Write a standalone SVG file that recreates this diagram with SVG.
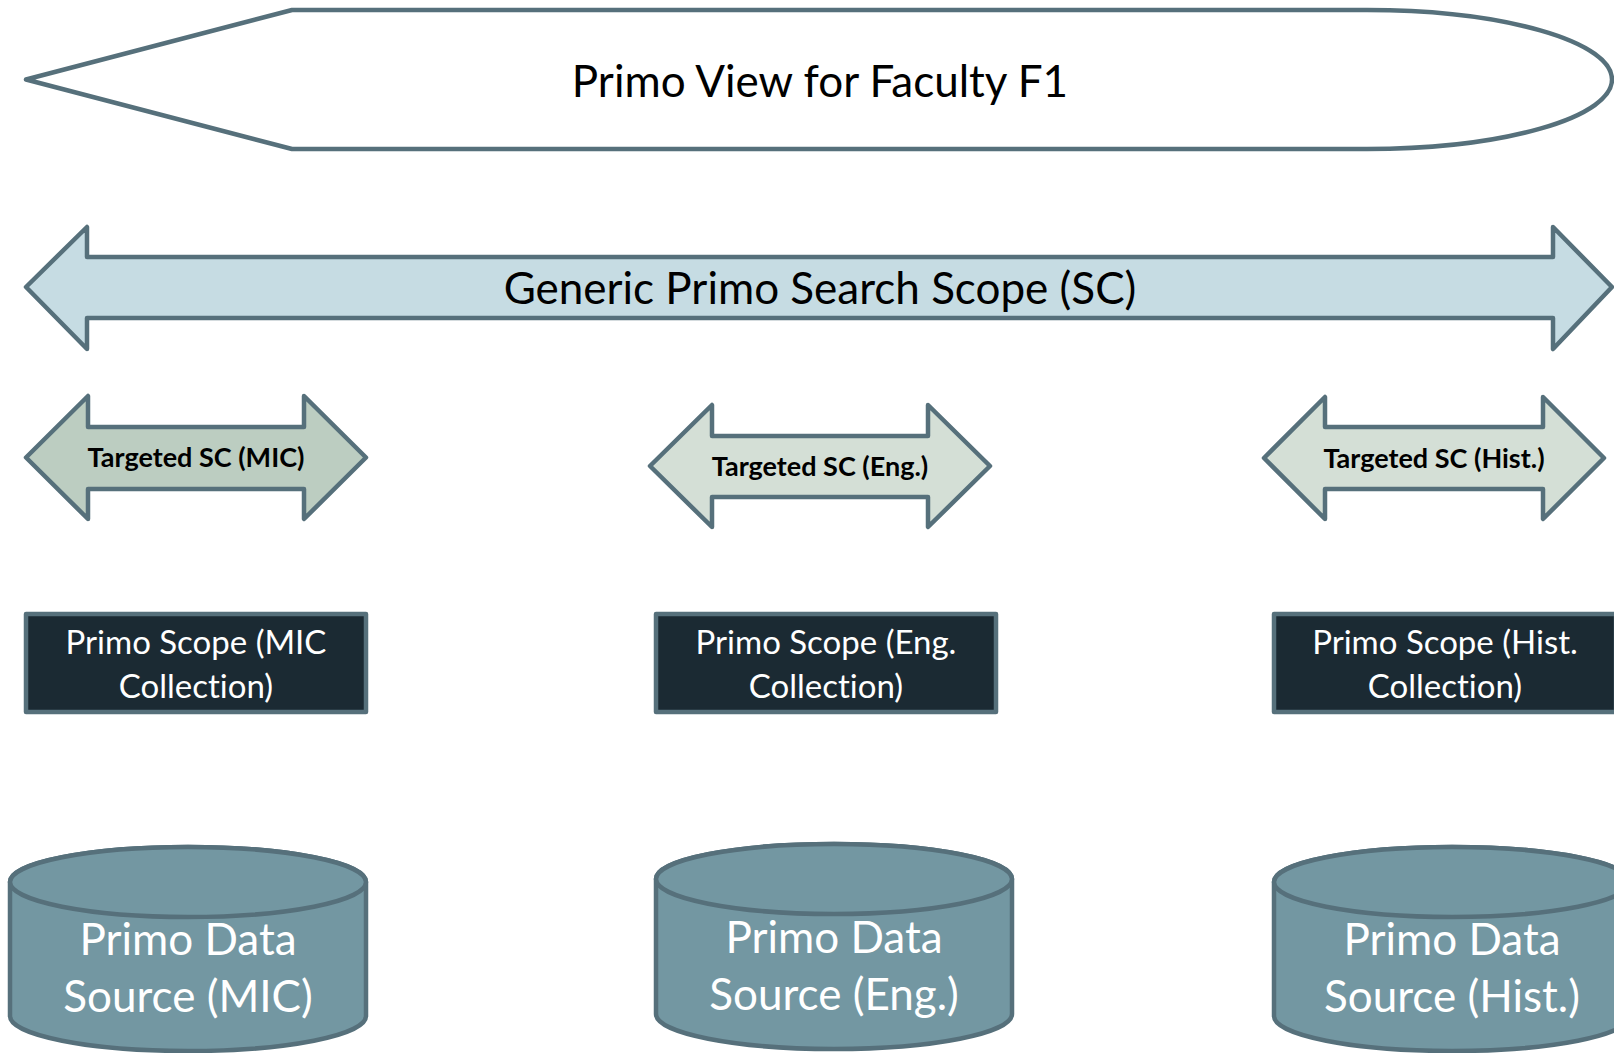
<svg xmlns="http://www.w3.org/2000/svg" width="1614" height="1053" viewBox="0 0 1614 1053">
<style>
.edge{stroke:#56707b;stroke-width:4.5;stroke-linejoin:round}
.view{fill:#ffffff}
.gen{fill:#c6dce3}
.tmic{fill:#bccdc1}
.tlite{fill:#d4dfd6}
.box{fill:#1b2a33}
.cyl{fill:#7397a2}
.t{font-family:Lato,"Liberation Sans",sans-serif;text-anchor:middle;font-variant-ligatures:none;font-feature-settings:"liga" 0}
.big{font-size:44px;fill:#000}
.bold{font-size:27px;font-weight:bold;fill:#000}
.wbox{font-size:33px;fill:#fff}
.wcyl{font-size:44px;fill:#fff}
</style>
<g id="view">
<path class="edge view" d="M26,79.5 L292,10 L1367,10 A245,69.5 0 0 1 1367,149 L292,149 Z"/>
<text class="t big" x="820" y="97">Primo View for Faculty F1</text>
</g>
<g id="generic-sc">
<polygon class="edge gen" points="26,287 87,227 87,257 1553,257 1553,227 1612,287 1553,349 1553,318 87,318 87,349"/>
<text class="t big" x="820" y="304">Generic Primo Search Scope (SC)</text>
</g>
<g id="targeted-mic">
<polygon class="edge tmic" points="26,457.5 88,396 88,427 304,427 304,396 366,457.5 304,519 304,489 88,489 88,519"/>
<text class="t bold" x="196" y="467">Targeted SC (MIC)</text>
</g>
<g id="targeted-eng">
<polygon class="edge tlite" points="650,466 712,405 712,436 928,436 928,405 990,466 928,527 928,497 712,497 712,527"/>
<text class="t bold" x="820" y="476">Targeted SC (Eng.)</text>
</g>
<g id="targeted-hist">
<polygon class="edge tlite" points="1264,458 1325,397 1325,427 1543,427 1543,397 1604,458 1543,519 1543,489 1325,489 1325,519"/>
<text class="t bold" x="1434" y="468">Targeted SC (Hist.)</text>
</g>
<g id="scope-mic">
<rect class="edge box" x="26" y="614" width="340" height="98"/>
<text class="t wbox" x="196" y="654">Primo Scope (MIC</text>
<text class="t wbox" x="196" y="698">Collection)</text>
</g>
<g id="scope-eng">
<rect class="edge box" x="656" y="614" width="340" height="98"/>
<text class="t wbox" x="826" y="654">Primo Scope (Eng.</text>
<text class="t wbox" x="826" y="698">Collection)</text>
</g>
<g id="scope-hist">
<rect class="edge box" x="1274" y="614" width="342" height="98"/>
<text class="t wbox" x="1445" y="654">Primo Scope (Hist.</text>
<text class="t wbox" x="1445" y="698">Collection)</text>
</g>
<g id="source-mic">
<path class="edge cyl" d="M10,882 L10,1016 A178,35 0 0 0 366,1016 L366,882 A178,35 0 0 0 10,882 Z"/>
<ellipse class="edge cyl" cx="188" cy="882" rx="178" ry="35"/>
<text class="t wcyl" x="188" y="955">Primo Data</text>
<text class="t wcyl" x="188" y="1012">Source (MIC)</text>
</g>
<g id="source-eng">
<path class="edge cyl" d="M656,879 L656,1014 A178,35 0 0 0 1012,1014 L1012,879 A178,35 0 0 0 656,879 Z"/>
<ellipse class="edge cyl" cx="834" cy="879" rx="178" ry="35"/>
<text class="t wcyl" x="834" y="953">Primo Data</text>
<text class="t wcyl" x="834" y="1010">Source (Eng.)</text>
</g>
<g id="source-hist">
<path class="edge cyl" d="M1274,882 L1274,1016 A178,35 0 0 0 1630,1016 L1630,882 A178,35 0 0 0 1274,882 Z"/>
<ellipse class="edge cyl" cx="1452" cy="882" rx="178" ry="35"/>
<text class="t wcyl" x="1452" y="955">Primo Data</text>
<text class="t wcyl" x="1452" y="1012">Source (Hist.)</text>
</g>
<g id="connectors"></g>
</svg>
